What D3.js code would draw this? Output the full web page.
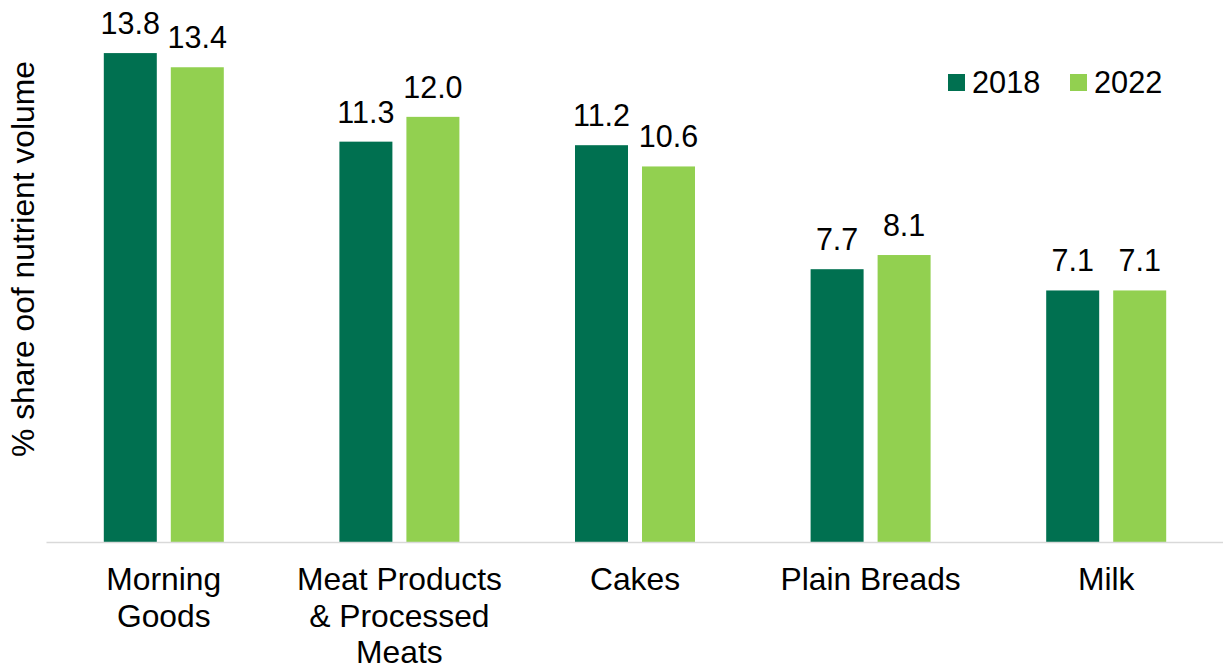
<!DOCTYPE html>
<html>
<head>
<meta charset="utf-8">
<script src="https://cdn.jsdelivr.net/npm/d3@7"></script>
<style>
  html, body { margin: 0; padding: 0; background: #fff; }
  svg { display: block; font-family: "Liberation Sans", Arial, sans-serif; }
</style>
</head>
<body>
<svg id="chart" width="1223" height="670"></svg>
<script>
// Share of nutrient volume by food category
const categories = ["Morning Goods", "Meat Products & Processed Meats", "Cakes", "Plain Breads", "Milk"];
const categoryLines = [["Morning", "Goods"], ["Meat Products", "& Processed", "Meats"], ["Cakes"], ["Plain Breads"], ["Milk"]];
const seriesNames = ["2018", "2022"];
const values2018 = [13.8, 11.3, 11.2, 7.7, 7.1];
const values2022 = [13.4, 12.0, 10.6, 8.1, 7.1];
const seriesColors = ["#007050", "#92D050"];

const svg = d3.select("#chart");

const baseline = 542;
const x0 = d3.scaleBand().domain(categories).range([46, 1224]).padding(0);
const x1 = d3.scaleBand().domain(seriesNames).range([0, 120]).paddingInner(0.209).paddingOuter(0);
const y = d3.scaleLinear().domain([0, 14]).range([baseline, 46]);
const color = d3.scaleOrdinal().domain(seriesNames).range(seriesColors);

const rows = categories.map((c, i) => ({
  category: c,
  lines: categoryLines[i],
  values: [
    { series: "2018", value: values2018[i] },
    { series: "2022", value: values2022[i] }
  ]
}));

const groups = svg.append("g").selectAll("g")
  .data(rows)
  .join("g")
  .attr("transform", d => `translate(${x0(d.category) + x0.bandwidth() / 2 - 60},0)`);

groups.selectAll("rect")
  .data(d => d.values)
  .join("rect")
  .attr("x", d => x1(d.series))
  .attr("y", d => y(d.value))
  .attr("width", x1.bandwidth())
  .attr("height", d => baseline - y(d.value))
  .attr("fill", d => color(d.series));

// value labels above each bar
groups.selectAll("text.value")
  .data(d => d.values)
  .join("text")
  .attr("class", "value")
  .attr("x", d => x1(d.series) + x1.bandwidth() / 2)
  .attr("y", d => y(d.value) - 19)
  .attr("text-anchor", "middle")
  .attr("font-size", 30.5)
  .attr("fill", "#000")
  .text(d => d3.format(".1f")(d.value));

// category axis
const xAxis = svg.append("g")
  .attr("transform", `translate(0,${baseline})`)
  .call(d3.axisBottom(x0).tickSize(0).tickFormat(""));
xAxis.select(".domain").attr("stroke", "#d9d9d9").attr("stroke-width", 1.5);

const labels = svg.append("g").selectAll("text")
  .data(rows)
  .join("text")
  .attr("text-anchor", "middle")
  .attr("font-size", 31.8)
  .attr("fill", "#000")
  .attr("transform", d => `translate(${x0(d.category) + x0.bandwidth() / 2},590)`);
labels.selectAll("tspan")
  .data(d => d.lines)
  .join("tspan")
  .attr("x", 0)
  .attr("y", (d, i) => i * 36.5)
  .text(d => d);

// y-axis title
svg.append("text")
  .attr("transform", "translate(34,259) rotate(-90)")
  .attr("text-anchor", "middle")
  .attr("font-size", 31.8)
  .attr("fill", "#000")
  .text("% share oof nutrient volume");

// legend
const legend = svg.append("g").selectAll("g")
  .data(seriesNames)
  .join("g")
  .attr("transform", (d, i) => `translate(${948 + i * 122},74)`);
legend.append("rect")
  .attr("width", 17)
  .attr("height", 17)
  .attr("fill", d => color(d));
legend.append("text")
  .attr("x", 24)
  .attr("y", 19)
  .attr("font-size", 30.7)
  .attr("fill", "#000")
  .text(d => d);
</script>
</body>
</html>
